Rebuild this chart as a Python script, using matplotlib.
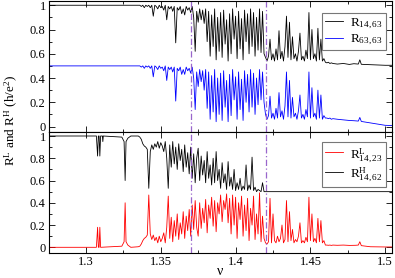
import numpy as np
import matplotlib
matplotlib.use("Agg")
import matplotlib.pyplot as plt
from matplotlib.ticker import MultipleLocator, FixedLocator

plt.rcParams['font.family'] = ['Liberation Serif', 'DejaVu Serif']
plt.rcParams['mathtext.fontset'] = 'custom'
plt.rcParams['mathtext.rm'] = 'Liberation Serif'
plt.rcParams['mathtext.it'] = 'Liberation Serif:italic'

# ---------------- data ----------------
# dense sampling grid (start, step) for the resonant region
nu_start = 1.336
nu_step = 0.001

# top panel: R_{14,63} (black)
tb_pre_x = [1.27, 1.335]
tb_pre_y = [1.0, 1.0]
tb_dense = [
    1.00, 0.99, 1.00, 0.98, 1.00, 0.99, 1.00, 0.98, 1.00, 0.91,
    1.00, 0.99, 0.97, 1.00, 0.98, 0.99, 0.96, 1.00, 0.88, 0.99,
    0.97, 0.99, 0.95, 0.99, 0.69, 0.98, 0.96, 0.99, 0.93, 0.97,
    0.92, 0.99, 0.96, 0.98, 0.94, 0.99, 0.90, 0.62, 0.95, 0.86,
    0.97, 0.88, 0.96, 0.85, 0.97, 0.70, 0.95, 0.58, 0.92, 0.66,
    0.97, 0.55, 0.90, 0.62, 0.94, 0.57, 0.96, 0.68, 0.88, 0.54,
    0.93, 0.60, 0.97, 0.72, 0.91, 0.56, 0.95, 0.64, 0.89, 0.55,
    0.96, 0.70, 0.93, 0.60, 0.97, 0.66, 0.94, 0.58, 0.90, 0.63,
    0.97, 0.61, 0.95, 0.60, 0.57, 0.54, 0.58, 0.72, 0.55, 0.60,
    0.54, 0.64, 0.55, 0.79, 0.56, 0.62, 0.54, 0.66, 0.91, 0.57,
    0.86, 0.55, 0.74, 0.56, 0.60, 0.54, 0.62, 0.77, 0.55, 0.58,
    0.54, 0.63, 0.56, 0.94, 0.55, 0.80, 0.56, 0.60, 0.54, 0.81,
    0.55, 0.72, 0.54, 0.56, 0.53, 0.525, 0.53, 0.52, 0.525, 0.52,
]
tb_post_x = [1.468, 1.472, 1.476, 1.479, 1.482, 1.483, 1.484, 1.49, 1.495, 1.5, 1.505]
tb_post_y = [0.515, 0.52, 0.512, 0.518, 0.515, 0.55, 0.513, 0.51, 0.508, 0.505, 0.505]

# top panel: R_{63,63} (blue)
bl_pre_x = [1.27, 1.335]
bl_pre_y = [0.5, 0.5]
bl_dense = [
    0.50, 0.49, 0.50, 0.48, 0.50, 0.49, 0.50, 0.48, 0.50, 0.41,
    0.50, 0.49, 0.47, 0.50, 0.48, 0.49, 0.46, 0.50, 0.38, 0.49,
    0.47, 0.49, 0.45, 0.49, 0.21, 0.48, 0.46, 0.49, 0.43, 0.47,
    0.43, 0.49, 0.46, 0.48, 0.44, 0.49, 0.40, 0.14, 0.45, 0.33,
    0.47, 0.37, 0.46, 0.30, 0.47, 0.15, 0.45, 0.06, 0.42, 0.12,
    0.47, 0.04, 0.40, 0.10, 0.44, 0.05, 0.46, 0.16, 0.38, 0.04,
    0.43, 0.09, 0.47, 0.22, 0.41, 0.06, 0.45, 0.14, 0.39, 0.05,
    0.46, 0.20, 0.43, 0.12, 0.47, 0.16, 0.44, 0.10, 0.40, 0.18,
    0.47, 0.22, 0.45, 0.20, 0.10, 0.06, 0.09, 0.25, 0.07, 0.11,
    0.06, 0.15, 0.07, 0.28, 0.08, 0.13, 0.06, 0.17, 0.45, 0.08,
    0.38, 0.07, 0.24, 0.08, 0.11, 0.06, 0.13, 0.26, 0.07, 0.10,
    0.06, 0.14, 0.08, 0.45, 0.07, 0.32, 0.08, 0.11, 0.06, 0.30,
    0.07, 0.26, 0.06, 0.09, 0.07, 0.07, 0.065, 0.07, 0.06, 0.065,
]
bl_post_x = [1.468, 1.472, 1.476, 1.479, 1.482, 1.483, 1.484, 1.49, 1.495, 1.5, 1.505]
bl_post_y = [0.06, 0.055, 0.05, 0.048, 0.045, 0.075, 0.042, 0.03, 0.02, 0.01, 0.008]

# bottom panel: R^H_{14,62} (black)
rh_pre_x = [1.27, 1.307, 1.3078, 1.3083, 1.3088, 1.3093, 1.3098, 1.311, 1.3113, 1.3116,
            1.324, 1.3255, 1.3262, 1.3268, 1.328, 1.33, 1.335]
rh_pre_y = [1.0, 1.0, 0.82, 1.0, 1.0, 0.82, 1.0, 1.0, 0.95, 1.0,
            0.99, 0.95, 0.60, 0.95, 0.98, 1.0, 1.0]
rh_dense = [
    0.99, 0.97, 0.93, 0.91, 0.90, 0.88, 0.53, 0.86, 0.92, 0.88,
    0.93, 0.90, 0.95, 0.89, 0.94, 0.91, 0.86, 0.95, 0.80, 0.53,
    0.92, 0.72, 0.95, 0.75, 0.90, 0.70, 0.93, 0.78, 0.88, 0.68,
    0.92, 0.72, 0.85, 0.66, 0.90, 0.62, 0.84, 0.58, 0.80, 0.89,
    0.60, 0.82, 0.65, 0.78, 0.58, 0.86, 0.62, 0.74, 0.56, 0.80,
    0.58, 0.86, 0.60, 0.70, 0.53, 0.76, 0.58, 0.66, 0.52, 0.77,
    0.55, 0.63, 0.52, 0.70, 0.51, 0.58, 0.52, 0.62, 0.51, 0.55,
    0.52, 0.74, 0.51, 0.56, 0.52, 0.81, 0.51, 0.54, 0.50, 0.52,
    0.51, 0.50, 0.58, 0.50, 0.50,
]
rh_post_x = [1.505]
rh_post_y = [0.5]

# bottom panel: R^L_{14,23} (red)
rl_pre_x = [1.27, 1.307, 1.3078, 1.3083, 1.3088, 1.3093, 1.3098, 1.324, 1.3255, 1.3262,
            1.3268, 1.328, 1.33, 1.335]
rl_pre_y = [0.0, 0.0, 0.18, 0.0, 0.0, 0.18, 0.0, 0.01, 0.05, 0.40,
            0.05, 0.02, 0.0, 0.005]
rl_dense = [
    0.01, 0.03, 0.06, 0.08, 0.09, 0.11, 0.47, 0.12, 0.07, 0.11,
    0.06, 0.09, 0.04, 0.10, 0.05, 0.08, 0.13, 0.04, 0.18, 0.46,
    0.08, 0.27, 0.05, 0.24, 0.10, 0.30, 0.07, 0.22, 0.12, 0.32,
    0.08, 0.28, 0.15, 0.34, 0.10, 0.38, 0.16, 0.42, 0.18, 0.10,
    0.40, 0.17, 0.35, 0.22, 0.43, 0.13, 0.38, 0.26, 0.45, 0.19,
    0.42, 0.14, 0.40, 0.30, 0.47, 0.23, 0.42, 0.34, 0.48, 0.22,
    0.44, 0.12, 0.47, 0.20, 0.45, 0.08, 0.40, 0.25, 0.46, 0.10,
    0.38, 0.15, 0.44, 0.06, 0.35, 0.20, 0.46, 0.07, 0.30, 0.12,
    0.49, 0.05, 0.28, 0.08, 0.04, 0.03, 0.05, 0.44, 0.04, 0.30,
    0.06, 0.04, 0.10, 0.05, 0.08, 0.20, 0.04, 0.07, 0.42, 0.05,
    0.32, 0.06, 0.16, 0.04, 0.07, 0.05, 0.10, 0.22, 0.04, 0.06,
    0.04, 0.09, 0.05, 0.45, 0.06, 0.30, 0.05, 0.08, 0.04, 0.26,
    0.05, 0.24, 0.04, 0.06, 0.02, 0.02, 0.018, 0.02, 0.017, 0.02,
]
rl_post_x = [1.468, 1.472, 1.476, 1.48, 1.482, 1.483, 1.484, 1.49, 1.5, 1.505]
rl_post_y = [0.018, 0.02, 0.017, 0.018, 0.02, 0.05, 0.015, 0.005, 0.003, 0.003]

vlines_nu = [1.37, 1.42]
y_ticks = [0, 0.2, 0.4, 0.6, 0.8, 1.0]
y_ticklabels = ['0', '0.2', '0.4', '0.6', '0.8', '1']
x_ticks = [1.3, 1.35, 1.4, 1.45, 1.5]
x_ticklabels = ['1.3', '1.35', '1.4', '1.45', '1.5']


def series(pre_x, pre_y, dense, post_x, post_y):
    dx = np.round(nu_start + nu_step * np.arange(len(dense)), 4)
    x = np.concatenate([pre_x, dx, post_x])
    y = np.concatenate([pre_y, dense, post_y])
    return x, y


fig = plt.figure(figsize=(3.95, 2.78), dpi=100)
L, W = 0.1228, 0.8696
ax1 = fig.add_axes([L, 0.5252, W, 0.4712])
ax2 = fig.add_axes([L, 0.0888, W, 0.4364])

lw = 0.6
x, y = series(tb_pre_x, tb_pre_y, tb_dense, tb_post_x, tb_post_y)
ax1.plot(x, y, color='black', lw=lw, label=r'R$_{14,63}$')
x, y = series(bl_pre_x, bl_pre_y, bl_dense, bl_post_x, bl_post_y)
ax1.plot(x, y, color='#0000ff', lw=lw, label=r'R$_{63,63}$')

x, y = series(rl_pre_x, rl_pre_y, rl_dense, rl_post_x, rl_post_y)
ax2.plot(x, y, color='#ff0000', lw=lw, label=r'R$^{\mathrm{L}}_{14,23}$')
x, y = series(rh_pre_x, rh_pre_y, rh_dense, rh_post_x, rh_post_y)
ax2.plot(x, y, color='black', lw=lw, label=r'R$^{\mathrm{H}}_{14,62}$')

for ax in (ax1, ax2):
    for v in vlines_nu:
        ax.axvline(v, color='#9966cc', lw=0.9, ls=(0, (5, 2, 1, 2)))
    ax.set_xlim(1.275, 1.5045)
    ax.xaxis.set_major_locator(FixedLocator(x_ticks))
    ax.xaxis.set_minor_locator(MultipleLocator(0.025))
    ax.yaxis.set_major_locator(FixedLocator(y_ticks))
    ax.yaxis.set_minor_locator(MultipleLocator(0.1))
    ax.set_yticklabels(y_ticklabels)
    ax.tick_params(which='both', direction='in', top=True, right=True,
                   labelsize=9, width=0.6, pad=2)
    ax.tick_params(which='major', length=4)
    ax.tick_params(which='minor', length=2)
    for s in ax.spines.values():
        s.set_linewidth(0.8)

ax1.set_ylim(-0.045, 1.035)
ax2.set_ylim(-0.054, 1.036)
ax1.set_xticks(x_ticks)
ax1.set_xticklabels([])
ax2.set_xticks(x_ticks)
ax2.set_xticklabels(x_ticklabels)

leg_kw = dict(loc='upper right', fontsize=9.5, fancybox=False, framealpha=1,
              edgecolor='#777777', handlelength=1.4, handletextpad=0.5,
              borderpad=0.25, labelspacing=0.15, borderaxespad=0)
l1 = ax1.legend(bbox_to_anchor=(0.983, 0.905), **leg_kw)
l2 = ax2.legend(bbox_to_anchor=(0.983, 0.915), **leg_kw)
for l in (l1, l2):
    l.get_frame().set_linewidth(0.8)

ax2.set_xlabel('ν', fontsize=10, labelpad=-2)
fig.text(0.03, 0.568, r'R$^{\mathrm{L}}$ and R$^{\mathrm{H}}$ (h/e$^{2}$)',
         rotation=90, ha='center', va='center', fontsize=9.5)

fig.savefig('out.png', dpi=100)
